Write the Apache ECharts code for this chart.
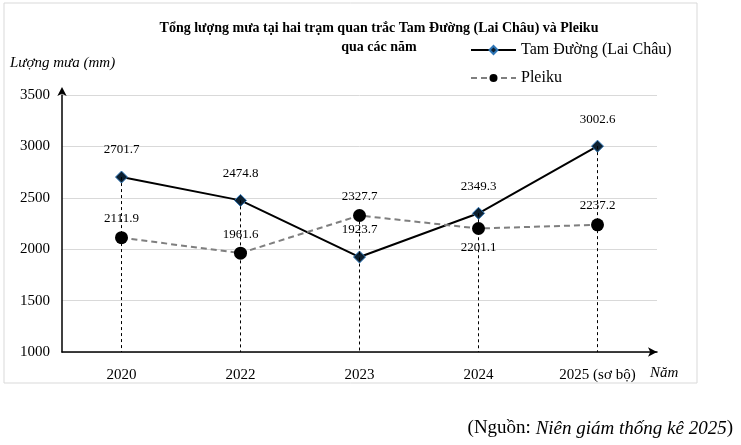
<!DOCTYPE html>
<html><head><meta charset="utf-8">
<script src="https://cdn.jsdelivr.net/npm/echarts@6/dist/echarts.min.js"></script>
<style>body{margin:0;background:#fff}#c{width:741px;height:445px}</style>
</head><body><div id="c"></div>
<script>
const years = ["2020", "2022", "2023", "2024", "2025 (sơ bộ)"];
const tamDuong = [2701.7, 2474.8, 1923.7, 2349.3, 3002.6];
const pleiku = [2111.9, 1961.6, 2327.7, 2201.1, 2237.2];
const pleikuLabelPos = ["top", "top", "top", "bottom", "top"];

const font = "Liberation Serif, Times New Roman, serif";
const chart = echarts.init(document.getElementById("c"), null, { renderer: "canvas" });

// vertical dashed drop lines from the higher point to the axis
const drops = years.map((y, i) => [
  { coord: [y, Math.max(tamDuong[i], pleiku[i])] },
  { coord: [y, 1000] }
]);

chart.setOption({
  animation: false,
  textStyle: { fontFamily: font },
  title: {
    text: "Tổng lượng mưa tại hai trạm quan trắc Tam Đường (Lai Châu) và Pleiku\nqua các năm",
    left: 374, top: 14, textAlign: "center",
    textStyle: { fontFamily: font, fontSize: 14, fontWeight: "bold", color: "#000", lineHeight: 19 }
  },
  legend: {
    orient: "vertical", left: 465, top: 37, itemGap: 12, itemWidth: 45, itemHeight: 10,
    textStyle: { fontFamily: font, fontSize: 16, color: "#000" },
    data: ["Tam Đường (Lai Châu)", "Pleiku"]
  },
  graphic: [
    { type: "rect", shape: { x: 4, y: 3, width: 693, height: 380 }, style: { fill: "none", stroke: "#d9d9d9" }, z: -1 },
    { type: "text", left: 10, top: 56, style: { text: "Lượng mưa (mm)", font: "italic 15px " + font, fill: "#000" } },
    { type: "text", left: 650, top: 366, style: { text: "Năm", font: "italic 15px " + font, fill: "#000" } },
    { type: "text", right: 8, top: 419, style: { rich: { a: { fontFamily: font, fontSize: 19 }, b: { fontFamily: font, fontSize: 19, fontStyle: "italic" } }, text: "{a|(Nguồn: }{b|Niên giám thống kê 2025}{a|)}" } }
  ],
  grid: { left: 62, top: 95, width: 595, height: 257 },
  xAxis: {
    type: "category", data: years,
    axisLine: { lineStyle: { color: "#000", width: 1.5 }, symbol: ["none", "arrow"], symbolSize: [7, 9] },
    axisTick: { show: false },
    axisLabel: { color: "#000", fontSize: 15, fontFamily: font, margin: 16 }
  },
  yAxis: {
    type: "value", min: 1000, max: 3500, interval: 500,
    axisLine: { show: true, lineStyle: { color: "#000", width: 1.5 }, symbol: ["none", "arrow"], symbolSize: [7, 9], symbolOffset: [0, 8] },
    axisLabel: { color: "#000", fontSize: 15, fontFamily: font, margin: 12, formatter: v => String(v) },
    splitLine: { lineStyle: { color: "#d9d9d9" } }
  },
  series: [
    {
      name: "Tam Đường (Lai Châu)", type: "line", data: tamDuong,
      symbol: "diamond", symbolSize: 12,
      lineStyle: { color: "#000", width: 2 },
      itemStyle: { color: "#0d2030", borderColor: "#2e75b6", borderWidth: 1 },
      label: { show: true, position: "top", distance: 14, color: "#000", fontSize: 13, fontFamily: font },
      markLine: {
        silent: true, symbol: "none", label: { show: false },
        lineStyle: { color: "#000", type: [3, 3], width: 1 },
        data: drops
      },
      z: 3
    },
    {
      name: "Pleiku", type: "line",
      data: pleiku.map((v, i) => ({ value: v, label: { position: pleikuLabelPos[i] } })),
      symbol: "circle", symbolSize: 13,
      lineStyle: { color: "#7f7f7f", width: 2, type: [6, 4] },
      itemStyle: { color: "#000" },
      label: { show: true, color: "#000", fontSize: 13, fontFamily: font, distance: 6 },
      z: 4
    }
  ]
});
</script></body></html>
